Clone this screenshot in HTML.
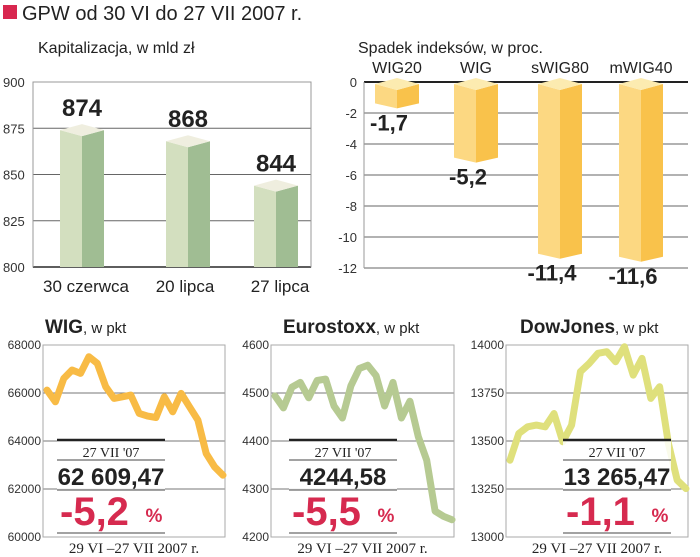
<!DOCTYPE html>
<html><head><meta charset="utf-8">
<style>
html,body{margin:0;padding:0;background:#fff;}
svg{display:block;font-family:"Liberation Sans",sans-serif;}
</style></head>
<body>
<svg id="s" width="700" height="557" viewBox="0 0 700 557" xmlns="http://www.w3.org/2000/svg">
<rect x="3" y="5" width="14" height="14" fill="#d8274f"/>
<text x="22" y="20" font-size="20" fill="#222">GPW od 30 VI do 27 VII 2007 r.</text>
<text x="38" y="53" font-size="16" fill="#222">Kapitalizacja, w mld zł</text>
<text x="358" y="53" font-size="16" fill="#222">Spadek indeksów, w proc.</text>
<g id="g"></g>
</svg>
<script>
const capCats=["30 czerwca","20 lipca","27 lipca"];
const capVals=[874,868,844];
const capTicks=[800,825,850,875,900];
const dropCats=["WIG20","WIG","sWIG80","mWIG40"];
const dropVals=[-1.7,-5.2,-11.4,-11.6];
const dropTicks=[0,-2,-4,-6,-8,-10,-12];
const wigVals=[66122,65635,66609,66957,66817,67513,67235,66261,65774,65843,65913,65148,65036,64981,65843,65217,65983,65426,64870,63478,62922,62574];
const wigTicks=[60000,62000,64000,66000,68000];
const euroVals=[4494,4469,4512,4522,4490,4526,4529,4473,4448,4515,4551,4558,4536,4473,4522,4448,4483,4409,4360,4254,4243,4236];
const euroTicks=[4200,4300,4400,4500,4600];
const dowVals=[13400,13539,13574,13583,13574,13643,13496,13583,13861,13904,13957,13965,13913,13991,13843,13930,13722,13783,13487,13296,13252];
const dowTicks=[13000,13250,13500,13750,14000];

const NS="http://www.w3.org/2000/svg";
const G=document.getElementById('g');
function el(tag,attrs,txt){const e=document.createElementNS(NS,tag);for(const k in attrs)e.setAttribute(k,attrs[k]);if(txt!==undefined)e.textContent=txt;G.appendChild(e);return e;}
function fmt(v){return String(v).replace('.',',');}

// ---- Capitalization chart
(function(){
 const x0=33,x1=311,yTop=82,yBot=267,vmin=800,vmax=900;
 const y=v=>yBot-(v-vmin)/(vmax-vmin)*(yBot-yTop);
 capTicks.forEach(t=>{
  const l=el('line',{x1:x0,x2:x1,y1:y(t),y2:y(t),stroke:t===800?'#222':'#666','stroke-width':t===800?2:1});
  
  const tx=el('text',{x:3,y:y(t)+5,'font-size':13,fill:'#333'},t);
  
 });
 const b=el('rect',{x:x0,y:yTop,width:x1-x0,height:yBot-yTop,fill:'none',stroke:'#999'});
 
 const cx=[82,188,276];
 capCats.forEach((c,i)=>{
  const X=cx[i],w=22,yt=y(capVals[i]);
  const f=el('polygon',{points:`${X-w},${yt} ${X},${yt+6} ${X},${yBot} ${X-w},${yBot}`,fill:'#d3dfbf'});
  const s=el('polygon',{points:`${X},${yt+6} ${X+w},${yt} ${X+w},${yBot} ${X},${yBot}`,fill:'#a0bd93'});
  const tp=el('polygon',{points:`${X-w},${yt} ${X},${yt-6} ${X+w},${yt} ${X},${yt+6}`,fill:'#efeedf'});
  const v=el('text',{x:X,y:yt-14,'font-size':24,'font-weight':'bold','text-anchor':'middle',fill:'#222'},capVals[i]);
  
  const lb=el('text',{x:X+(i==1?-3:4),y:292,'font-size':17,'text-anchor':'middle',fill:'#222'},c);
  
 });
})();

// ---- Drop chart
(function(){
 const x0=364,x1=688,yTop=82,yBot=268,vmin=-12,vmax=0;
 const y=v=>yTop+(vmax-v)/(vmax-vmin)*(yBot-yTop);
 dropTicks.forEach(t=>{
  const l=el('line',{x1:x0,x2:x1,y1:y(t),y2:y(t),stroke:t===0?'#222':'#666','stroke-width':t===0?2:1});
  
  const tx=el('text',{x:357,y:y(t)+5,'font-size':13,fill:'#333','text-anchor':'end'},t);
  
 });
 const l=el('line',{x1:x0,x2:x0,y1:yTop,y2:yBot,stroke:'#999'});
 const cx=[397,476,560,641];
 dropCats.forEach((c,i)=>{
  const X=cx[i],w=22,yb=y(dropVals[i]),yt=y(0)+2;
  const f=el('polygon',{points:`${X-w},${yt} ${X},${yt+6} ${X},${yb} ${X-w},${yb-5}`,fill:'#fcd882'});
  const s=el('polygon',{points:`${X},${yt+6} ${X+w},${yt} ${X+w},${yb-5} ${X},${yb}`,fill:'#f9c24b'});
  const tp=el('polygon',{points:`${X-w},${yt} ${X},${yt-6} ${X+w},${yt} ${X},${yt+6}`,fill:'#fcebb0'});
  const v=el('text',{x:X-8,y:yb+22,'font-size':22,'font-weight':'bold','text-anchor':'middle',fill:'#222'},fmt(dropVals[i]));
  
  const lb=el('text',{x:X,y:73,'font-size':16,'text-anchor':'middle',fill:'#222'},c);
  
 });
})();

// ---- Line charts
function lineChart(o){
 const {x0,x1,yTop,yBot,vals,ticks,color}=o;
 const vmin=ticks[0],vmax=ticks[ticks.length-1];
 const y=v=>yBot-(v-vmin)/(vmax-vmin)*(yBot-yTop);
 const x=i=>x0+4+i*(x1-x0-6)/(vals.length-1);
 const t1=el('text',{x:o.titleX,y:333,'font-size':18,fill:'#222'});
 
 const b1=document.createElementNS(NS,'tspan');b1.setAttribute('font-weight','bold');b1.setAttribute('font-size','19');b1.textContent=o.title;t1.appendChild(b1);
 const b2=document.createElementNS(NS,'tspan');b2.setAttribute('font-size','15');b2.textContent=', w pkt';t1.appendChild(b2);
 ticks.forEach(t=>{
  const l=el('line',{x1:x0,x2:x1,y1:y(t),y2:y(t),stroke:'#777'});
  
  const tx=el('text',{x:x0-2,y:y(t)+4,'font-size':12,fill:'#333','text-anchor':'end'},t);
  
 });
 const fr=el('rect',{x:x0,y:yTop,width:x1-x0,height:yBot-yTop,fill:'none',stroke:'#aaa'});
 
 const pts=vals.map((v,i)=>x(i).toFixed(1)+','+y(v).toFixed(1)).join(' ');
 const pl=el('polyline',{points:pts,fill:'none',stroke:color,'stroke-width':7,'stroke-linejoin':'round','stroke-linecap':'round'});
 
 const bx=o.boxX,bw=108;
 const bg=el('rect',{x:bx,y:440,width:bw,height:94,fill:'#fff','fill-opacity':0.85});
 
 const tl=el('line',{x1:bx,x2:bx+bw,y1:440,y2:440,stroke:'#222','stroke-width':2.5});
 [460,490,533].forEach(yy=>{const r=el('line',{x1:bx,x2:bx+bw,y1:yy,y2:yy,stroke:'#444'});});
 const d=el('text',{x:bx+bw/2,y:457,'font-size':14,'font-family':'Liberation Serif,serif','text-anchor':'middle',fill:'#222'},"27 VII '07");
 
 const v=el('text',{x:bx+bw/2,y:485,'font-size':24,'font-weight':'bold','text-anchor':'middle',fill:'#222'},o.last);
 
 const p=el('text',{x:bx+3,y:525,'font-size':40,'font-weight':'bold',fill:'#d62a4f'},o.pct);
 
 const pc=el('text',{x:bx+bw-11,y:522,'font-size':19,'font-weight':'bold',fill:'#d62a4f','text-anchor':'middle'},'%');
 
 const r=el('text',{x:(x0+x1)/2,y:553,'font-size':15,'font-family':'Liberation Serif,serif','text-anchor':'middle',fill:'#222'},'29 VI –27 VII 2007 r.');
 
}
lineChart({id:'wig',title:'WIG',titleX:45,x0:43,x1:225,yTop:345,yBot:537,vals:wigVals,ticks:wigTicks,color:'#f8bb45',boxX:57,last:'62 609,47',pct:'-5,2'});
lineChart({id:'euro',title:'Eurostoxx',titleX:283,x0:271,x1:454,yTop:345,yBot:537,vals:euroVals,ticks:euroTicks,color:'#b6ca92',boxX:289,last:'4244,58',pct:'-5,5'});
lineChart({id:'dow',title:'DowJones',titleX:520,x0:506,x1:688,yTop:345,yBot:537,vals:dowVals,ticks:dowTicks,color:'#dfe07c',boxX:563,last:'13 265,47',pct:'-1,1'});
</script>
</body></html>
